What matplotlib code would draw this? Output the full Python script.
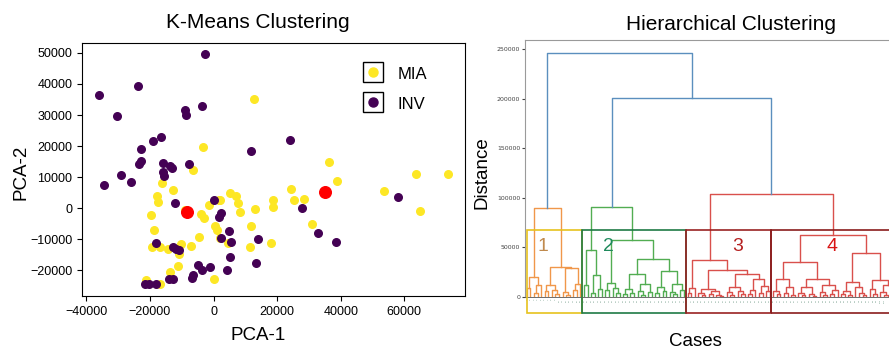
import matplotlib
matplotlib.use('Agg')
import matplotlib.pyplot as plt
from matplotlib.lines import Line2D
from matplotlib.patches import Rectangle
from matplotlib.legend_handler import HandlerTuple

# ---- K-Means scatter (PCA projection) ----
mia_x = [12700, -3300, -6300, 36200, 38900, 63800, 73600, 53600, 64900, 24300,
         25300, 28500, 18600, 18700, 13200, 31100, 11900, 11400, 18000, 5100,
         7200, 7600, 8200, 1800, -1500, -3800, -3000, 400, 1000, 2000,
         4400, -4700, -7100, -12900, -16300, -17800, -17600, -19800, -18700, -19400,
         -16900, -14300, -10800, -11100, -13600, -21300, -16900, 0, -10200, -8900, 2000]
mia_y = [35100, 19700, 12300, 15000, 8600, 10900, 10900, 5400, -900, 6200,
         2600, 2900, 2600, 500, -300, -5000, -5900, -12400, -11300, 4900,
         3800, 1500, -1100, 2700, 900, -1900, -3200, -5900, -7000, -9700,
         -11100, -9400, -12200, 5900, 8100, 3800, 2100, -2100, -7200, -12400,
         -12600, -13300, -14900, -18600, -20500, -23000, -24600, -22800, -11600, -500, 2500]

inv_x = [-2700, -35900, -23900, -30400, -8900, -8600, -3500, -16600, -19100, -22900,
         -22800, -23500, -29200, -34300, -26000, -15900, -16000, -15700, -13600, -13100,
         -7800, -12000, 11900, 24000, 300, 1800, 2500, 27900, 58000, 4900,
         2200, 5600, 14000, 32800, 38500, 5300, 13400, -18100, -12900, -11700,
         -11000, -5000, -3500, -1100, 4300, -6300, -6900, -14100, -12600, -21400,
         -20200, -18100]
inv_y = [49500, 36500, 39400, 29800, 31500, 29900, 32900, 22800, 21500, 19100,
         15300, 14100, 10800, 7600, 8300, 14400, 11800, 10200, 13700, 13000,
         14100, 1600, 18400, 22000, 2600, -2700, -1700, 100, 3700, -7300,
         -9500, -10800, -9800, -7900, -11000, -15800, -17600, -11100, -12400, -13100,
         -13500, -18400, -19800, -18900, -19800, -21600, -22400, -22800, -22700, -24600,
         -24600, -24600]

centroid_x = [-8400, 35200]
centroid_y = [-1300, 5100]

# ---- Hierarchical clustering: [merge height, left, right], 0 = leaf ----
cluster1_tree = [90000,
                 [20000, [9000, 0, 0], [12000, [4000, 0, 0], 0]],
                 [30500, [12000, [6000, 0, 0], [7000, 0, [3000, 0, 0]]],
                  [29000, [5000, 0, [2500, 0, 0]], [13000, [7000, 0, 0], 0]]]]
cluster2_tree = [91000,
                 [47000, [12000, 0, 0], [22000, [4000, 0, 0], [8000, 0, 0]]],
                 [57000, [14000, [7000, 0, 0], [9000, 0, [4000, 0, 0]]],
                  [38000, [23000, [8000, [3000, 0, 0], [4000, 0, 0]],
                           [13000, [6000, 0, [2000, 0, 0]], [5000, 0, 0]]],
                   [26000, [10000, [4000, 0, 0], [6000, 0, 0]],
                    [13000, [5000, 0, [3000, 0, 0]], [7000, 0, 0]]]]]]
cluster3_tree = [37500,
                 [9000, [4000, 0, 0], 0],
                 [27500, [8000, [4000, 0, [2000, 0, 0]], [6000, [3000, 0, 0], [2500, 0, [1500, 0, 0]]]],
                  [23000, [10000, [5000, 0, [2000, 0, 0]], [6000, 0, [3000, 0, 0]]],
                   [18500, [7000, [3000, 0, 0], 0], [11000, [4000, 0, 0], [6000, 0, 0]]]]]]
cluster4_tree = [62000,
                 [35000, [18000, [6000, 0, [3000, 0, 0]], [10000, [4000, 0, 0], [2500, 0, 0]]],
                  [18000, [10000, [4000, 0, [2000, 0, 0]], [3000, 0, [1500, 0, 0]]],
                   [12000, [5000, 0, [2000, 0, 0]], [7000, [3000, 0, 0], 0]]]],
                 [44500, [15500, [6000, [3000, 0, 0], [2000, 0, 0]], [10000, 0, [4000, 0, [2000, 0, 0]]]],
                  [17000, [8000, 0, [3000, 0, 0]], [12000, [5000, 0, [2000, 0, 0]], [4000, 0, [2000, 0, 0]]]]]]
upper_heights = [104000, 201000, 246000]
cluster_names = ['1', '2', '3', '4']

tree_colors = ['#f0974a', '#52ad52', '#d9504c', '#d9504c']
above_color = '#5b8fbe'
box_colors = ['#e6c21e', '#1f7a45', '#9a2222', '#8a1c1c']
number_colors = ['#c08a4e', '#1f8a5c', '#b52020', '#d81414']
number_frac = [0.28, 0.25, 0.6, 0.47]

fig = plt.figure(figsize=(8.89, 3.5), dpi=100)
fig.patch.set_facecolor('white')

# left panel
ax1 = fig.add_axes([0.0922, 0.1543, 0.4308, 0.7229])
ax1.scatter(mia_x, mia_y, s=30, color='#fde725', zorder=2)
ax1.scatter(inv_x, inv_y, s=30, color='#440154', zorder=2)
ax1.scatter(centroid_x, centroid_y, s=70, color='red', zorder=3)
ax1.margins(0.05)
ax1.set_xticks([-40000, -20000, 0, 20000, 40000, 60000])
ax1.set_yticks([-20000, -10000, 0, 10000, 20000, 30000, 40000, 50000])
ax1.tick_params(labelsize=9)
for lab in ax1.get_xticklabels() + ax1.get_yticklabels():
    lab.set_family('Liberation Sans')

sq = Line2D([], [], marker='s', ms=14.5, mfc='white', mec='black', mew=1.0, ls='none')
d_mia = Line2D([], [], marker='o', ms=6.5, color='#fde725', ls='none')
d_inv = Line2D([], [], marker='o', ms=6.5, color='#440154', ls='none')
ax1.legend([(sq, d_mia), (sq, d_inv)], ['MIA', 'INV'],
           handler_map={tuple: HandlerTuple(ndivide=1)},
           loc='upper left', bbox_to_anchor=(0.712, 0.945), frameon=False,
           handlelength=1.2, handleheight=1.2, handletextpad=0.9,
           labelspacing=0.75, borderpad=0,
           prop={'family': 'Liberation Sans', 'size': 12})

fig.text(258 / 889, 1 - 23 / 350, 'K-Means Clustering', ha='center', va='center',
         fontsize=15, family='Liberation Sans')
fig.text(258 / 889, 1 - 335 / 350, 'PCA-1', ha='center', va='center',
         fontsize=13.5, family='Liberation Sans')
fig.text(21 / 889, 1 - 172 / 350, 'PCA-2', ha='center', va='center', rotation=90,
         fontsize=13.5, family='Liberation Sans')

# right panel (runs slightly past the right edge, as in the cropped original)
ax2 = fig.add_axes([0.5906, 0.1514, 0.4218, 0.7343])
leaf_counter = [0]


def draw_tree(node, color):
    if node == 0:
        x = 5 + 10 * leaf_counter[0]
        leaf_counter[0] += 1
        return x, 0
    h, left, right = node
    xl, hl = draw_tree(left, color)
    xr, hr = draw_tree(right, color)
    ax2.plot([xl, xl, xr, xr], [hl, h, h, hr], color=color, lw=1.0)
    return (xl + xr) / 2, h


def link(a, b, h, color):
    ax2.plot([a[0], a[0], b[0], b[0]], [a[1], h, h, b[1]], color=color, lw=1.0)
    return (a[0] + b[0]) / 2, h


tops = []
bounds = []
for tree, col in zip([cluster1_tree, cluster2_tree, cluster3_tree, cluster4_tree], tree_colors):
    start = leaf_counter[0]
    tops.append(draw_tree(tree, col))
    bounds.append((start * 10, leaf_counter[0] * 10))

n_leaves = leaf_counter[0]
t34 = link(tops[2], tops[3], upper_heights[0], tree_colors[2])
t234 = link(tops[1], t34, upper_heights[1], above_color)
link(tops[0], t234, upper_heights[2], above_color)

for (lo, hi), bc, nc, name, frac in zip(bounds, box_colors, number_colors, cluster_names, number_frac):
    lo = max(lo, 6)
    ax2.add_patch(Rectangle((lo, -16000), hi - lo, 83500, fill=False, ec=bc,
                            lw=1.2, clip_on=False, zorder=4))
    ax2.text(lo + frac * (hi - lo), 50500, name, color=nc, fontsize=14,
             family='Liberation Sans', ha='center', va='center')

ax2.set_xlim(0, n_leaves * 10)
ax2.set_ylim(0, 259000)
ax2.set_yticks([0, 50000, 100000, 150000, 200000, 250000])
ax2.tick_params(axis='y', labelsize=4.5, length=2, pad=1.5, colors='#444444')

# leaf labels, only for leaves that fall inside the visible picture
leaf_x = [5 + 10 * i for i in range(n_leaves)]
visible = [x for x in leaf_x
           if ax2.transData.transform((x, 0))[0] < fig.bbox.width - 4]
ax2.set_xticks(visible)
ax2.set_xticklabels([str(i + 1) for i in range(len(visible))], fontsize=1.6,
                    rotation=90, color='#6f9a86')
ax2.tick_params(axis='x', length=0, pad=1.5)
for side in ['top', 'left']:
    ax2.spines[side].set_color('#9a9a9a')
ax2.spines['right'].set_visible(False)
ax2.spines['bottom'].set_color('#555555')
ax2.spines['bottom'].set_linewidth(0.6)

fig.text(731 / 889, 1 - 24 / 350, 'Hierarchical Clustering', ha='center', va='center',
         fontsize=15, family='Liberation Sans')
fig.text(695 / 889, 1 - 342 / 350, 'Cases', ha='center', va='center',
         fontsize=13.5, family='Liberation Sans')
fig.text(482 / 889, 1 - 173 / 350, 'Distance', ha='center', va='center', rotation=90,
         fontsize=13.5, family='Liberation Sans')

fig.savefig('out.png', dpi=100)
